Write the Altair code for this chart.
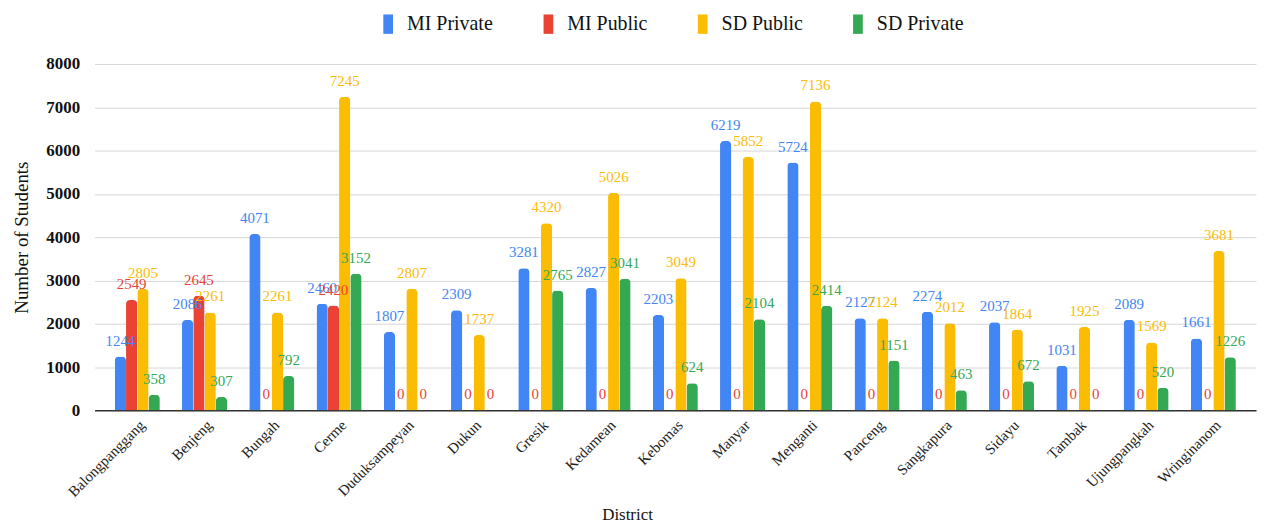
import altair as alt
import pandas as pd

districts = ["Balongpanggang", "Benjeng", "Bungah", "Cerme", "Duduksampeyan", "Dukun",
             "Gresik", "Kedamean", "Kebomas", "Manyar", "Menganti", "Panceng",
             "Sangkapura", "Sidayu", "Tambak", "Ujungpangkah", "Wringinanom"]
mi_private = [1244, 2086, 4071, 2460, 1807, 2309, 3281, 2827, 2203, 6219, 5724, 2127, 2274, 2037, 1031, 2089, 1661]
mi_public = [2549, 2645, 0, 2420, 0, 0, 0, 0, 0, 0, 0, 0, 0, 0, 0, 0, 0]
sd_public = [2805, 2261, 2261, 7245, 2807, 1737, 4320, 5026, 3049, 5852, 7136, 2124, 2012, 1864, 1925, 1569, 3681]
sd_private = [358, 307, 792, 3152, 0, 0, 2765, 3041, 624, 2104, 2414, 1151, 463, 672, 0, 520, 1226]

series_names = ["MI Private", "MI Public", "SD Public", "SD Private"]
series_colors = ["#4285F4", "#EA4335", "#FBBC04", "#34A853"]

rows = []
for name, vals in zip(series_names, [mi_private, mi_public, sd_public, sd_private]):
    for d, v in zip(districts, vals):
        rows.append({"District": d, "series": name, "value": v})
df = pd.DataFrame(rows)

FONT = "Liberation Serif"

xenc = alt.X("District:N", sort=districts, title="District",
             scale=alt.Scale(paddingInner=0.33, paddingOuter=0.3),
             axis=alt.Axis(labelAngle=-45, labelFontSize=15, labelFont=FONT, labelColor="#222",
                           titleFont=FONT, titleFontSize=17, titleFontWeight="normal", titleColor="#111",
                           ticks=False, domainColor="#333", domainWidth=1.5, titlePadding=7,
                           labelPadding=7, titleX=535))
xoff = alt.XOffset("series:N", sort=series_names)
color_scale = alt.Scale(domain=series_names, range=series_colors)

base = alt.Chart(df)

bars = base.mark_bar(cornerRadiusTopLeft=4, cornerRadiusTopRight=4).encode(
    x=xenc,
    xOffset=xoff,
    y=alt.Y("value:Q", title="Number of Students",
            scale=alt.Scale(domain=[0, 8000]),
            axis=alt.Axis(values=list(range(0, 8001, 1000)), format="d", labelFontSize=17,
                          labelFont=FONT, labelFontWeight="bold", labelColor="#111",
                          domain=False, ticks=False, gridColor="#d6d6d6", labelPadding=15,
                          titleFont=FONT, titleFontSize=19, titleFontWeight="normal",
                          titleColor="#111", titlePadding=14)),
    color=alt.Color("series:N", scale=color_scale, sort=series_names,
                    legend=alt.Legend(title=None, orient="none", direction="horizontal",
                                      legendX=285, legendY=-50, padding=0,
                                      symbolType="M-0.5,-1H0.5V1H-0.5Z",
                                      symbolSize=380, symbolStrokeWidth=0, labelFont=FONT,
                                      labelFontSize=20, labelColor="#111", columnPadding=45,
                                      labelOffset=9)),
)

labels = base.mark_text(font=FONT, fontSize=15, dy=-8, baseline="bottom").encode(
    x=alt.X("District:N", sort=districts),
    xOffset=xoff,
    y="value:Q",
    text="value:Q",
    color=alt.condition(alt.datum.value == 0, alt.value("#EA4335"),
                        alt.Color("series:N", scale=color_scale, legend=None)),
)

chart = (bars + labels).properties(width=1167, height=348).configure_view(stroke=None)

chart.save("out.html", embed_options={"renderer": "svg", "actions": False})
